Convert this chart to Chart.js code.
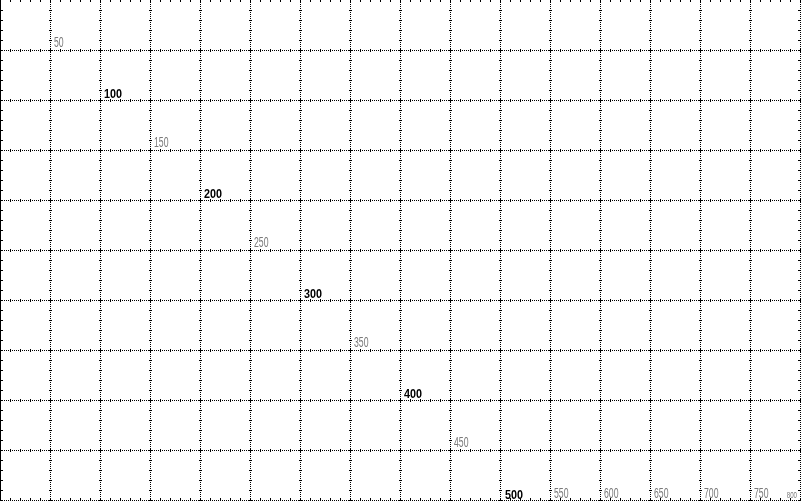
<!DOCTYPE html>
<html>
<head>
<meta charset="utf-8">
<style>
  html, body { margin: 0; padding: 0; background: #ffffff; }
  #wrap { width: 801px; height: 501px; }
  canvas { display: block; }
</style>
<script src="https://cdn.jsdelivr.net/npm/chart.js@4/dist/chart.umd.min.js"></script>
</head>
<body>
<div id="wrap"><canvas id="c" width="801" height="501"></canvas></div>
<script>
// ---- data ----
const gridX = [0, 50, 100, 150, 200, 250, 300, 350, 400, 450, 500, 550, 600, 650, 700, 750, 800];
const gridY = [50, 100, 150, 200, 250, 300, 350, 400, 450, 500];
const diagLabels = [50, 100, 150, 200, 250, 300, 350, 400, 450, 500];
const bottomLabels = [550, 600, 650, 700, 750];
const cornerLabels = [800];
const minorStep = 10;
const xMax = 800;
const yMax = 500;

const labelPoints = []
  .concat(diagLabels.map(v => ({ x: v, y: v, t: String(v), kind: (v % 100 === 0) ? 'bold' : 'gray' })))
  .concat(bottomLabels.map(v => ({ x: v, y: yMax, t: String(v), kind: 'bottom' })))
  .concat(cornerLabels.map(v => ({ x: v, y: yMax, t: String(v), kind: 'corner' })));

const FONT = '"Liberation Sans", Arial, sans-serif';

const rulerPlugin = {
  id: 'ruler',
  afterDatasetsDraw(chart) {
    const ctx = chart.ctx;
    const xs = chart.scales.x, ys = chart.scales.y;
    const px = v => Math.round(xs.getPixelForValue(v));
    const py = v => Math.round(ys.getPixelForValue(v));
    ctx.save();
    ctx.fillStyle = '#000000';
    // solid left edge
    ctx.fillRect(px(0), py(0), 1, py(yMax) - py(0) + 1);
    // ticks along vertical grid lines
    gridX.forEach(gx => {
      const x = px(gx);
      for (let v = minorStep; v <= yMax; v += minorStep) {
        const y = py(v);
        if (gx === 0) ctx.fillRect(x, y, 3, 1);
        else if (gx === xMax) ctx.fillRect(x - 2, y, 3, 1);
        else ctx.fillRect(x - 1, y, 3, 1);
      }
    });
    // ticks along horizontal grid lines
    gridY.forEach(gy => {
      const y = py(gy);
      for (let v = minorStep; v <= xMax; v += minorStep) {
        const x = px(v);
        if (gy === yMax) ctx.fillRect(x, y - 2, 1, 3);
        else ctx.fillRect(x, y - 1, 1, 3);
      }
    });
    // ticks along the top edge
    for (let v = minorStep; v <= xMax; v += minorStep) {
      ctx.fillRect(px(v), py(0), 1, 2);
    }
    // labels
    const meta = chart.getDatasetMeta(0);
    meta.data.forEach((el, i) => {
      const p = labelPoints[i];
      const x = Math.round(el.x), y = Math.round(el.y);
      ctx.save();
      ctx.textBaseline = 'alphabetic';
      if (p.kind === 'bold') {
        ctx.font = 'bold 13.5px ' + FONT;
        ctx.fillStyle = '#000000';
        const bottomRow = (y === py(yMax));
        ctx.translate(x + (bottomRow ? 5 : 4), bottomRow ? y - 1 : y - 2);
        ctx.scale(0.8, 1);
        ctx.fillText(p.t, 0, 0);
      } else if (p.kind === 'gray') {
        ctx.font = '14px ' + FONT;
        ctx.fillStyle = '#7a7a7a';
        ctx.translate(x + 4, y - 3);
        ctx.scale(0.62, 1);
        ctx.fillText(p.t, 0, 0);
      } else if (p.kind === 'bottom') {
        ctx.font = '14px ' + FONT;
        ctx.fillStyle = '#7a7a7a';
        ctx.translate(x + 4, y - 2);
        ctx.scale(0.62, 1);
        ctx.fillText(p.t, 0, 0);
      } else {
        ctx.font = '9px ' + FONT;
        ctx.fillStyle = '#7a7a7a';
        ctx.translate(x - 3, y - 2);
        ctx.scale(0.68, 1);
        ctx.textAlign = 'right';
        ctx.fillText(p.t, 0, 0);
      }
      ctx.restore();
    });
    ctx.restore();
  }
};

new Chart(document.getElementById('c'), {
  type: 'scatter',
  data: {
    datasets: [{
      data: labelPoints.map(p => ({ x: p.x, y: p.y })),
      pointRadius: 0,
      pointHoverRadius: 0,
      showLine: false
    }]
  },
  options: {
    responsive: false,
    animation: false,
    devicePixelRatio: 1,
    events: [],
    layout: { padding: { left: 0, top: 0, right: 1, bottom: 1 } },
    plugins: { legend: { display: false }, tooltip: { enabled: false }, title: { display: false } },
    scales: {
      x: {
        type: 'linear', min: 0, max: xMax,
        afterBuildTicks: axis => { axis.ticks = gridX.map(v => ({ value: v })); },
        ticks: { display: false },
        grid: { drawTicks: false, color: '#000000', lineWidth: 1 },
        border: { display: false, dash: c => (c.tick && c.tick.value === 0) ? [] : [1, 1] }
      },
      y: {
        type: 'linear', min: 0, max: yMax, reverse: true,
        afterBuildTicks: axis => { axis.ticks = gridY.map(v => ({ value: v })); },
        ticks: { display: false },
        grid: { drawTicks: false, color: '#000000', lineWidth: 1 },
        border: { display: false, dash: [1, 1] }
      }
    }
  },
  plugins: [rulerPlugin]
});
</script>
</body>
</html>
